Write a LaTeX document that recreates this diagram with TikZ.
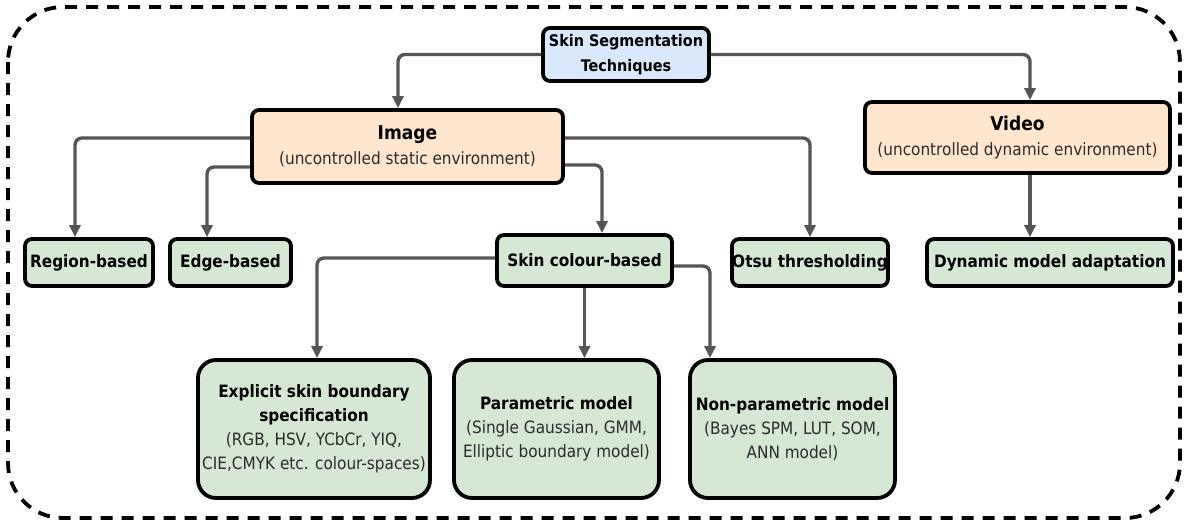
\documentclass[tikz,border=0pt]{standalone}
\usepackage{fontspec}
\setmainfont{DejaVu Sans Condensed}
\usetikzlibrary{arrows.meta}

\definecolor{rootfill}{HTML}{DAE8FC}
\definecolor{mainfill}{HTML}{FFE6CC}
\definecolor{leaffill}{HTML}{D5E8D4}
\definecolor{linkgray}{HTML}{555555}
\definecolor{subtext}{HTML}{2B2B2B}

% title and description lines inside the boxes
\newcommand{\maintitle}[1]{{\bfseries\fontsize{19}{25}\selectfont #1}}
\newcommand{\boxtitle}[1]{{\bfseries #1}}
\newcommand{\boxsub}[1]{{\color{subtext}#1}}

\begin{document}
\begin{tikzpicture}[x=1pt,y=-1pt,
  box/.style={draw=black, line width=3.8pt, rounded corners=7pt, align=center,
    inner sep=0pt, text=black},
  rootbox/.style={box, fill=rootfill, minimum width=166pt, minimum height=53pt,
    font=\bfseries\fontsize{16}{25}\selectfont},
  mainbox/.style={box, fill=mainfill, minimum height=73pt,
    font=\fontsize{17}{25}\selectfont},
  leafbox/.style={box, fill=leaffill, minimum height=47pt,
    font=\bfseries\fontsize{17}{20}\selectfont},
  bigbox/.style={box, fill=leaffill, rounded corners=18pt, minimum width=205pt,
    minimum height=138pt, font=\fontsize{17}{24}\selectfont},
  conn/.style={draw=linkgray, line width=3.4pt, rounded corners=7pt,
    -{Triangle[length=12pt,width=11pt]}},
]
\useasboundingbox (0,0) rectangle (1184,525);

% dashed frame around the whole taxonomy
\draw[black, line width=3.8pt, dash pattern=on 12pt off 9pt, rounded corners=55pt]
  (8,7) rectangle (1180,518);

% root
\node[rootbox] (root) at (626,54.5) {Skin Segmentation\\Techniques};

% media type
\node[mainbox, minimum width=311pt] (img) at (407.5,146.5)
  {\maintitle{Image}\\\boxsub{(uncontrolled static environment)}};
\node[mainbox, minimum width=305pt, minimum height=71pt] (vid) at (1017.5,137.5)
  {\maintitle{Video}\\\boxsub{(uncontrolled dynamic environment)}};

% technique families
\node[leafbox, minimum width=128pt] (reg) at (89,262.5) {Region-based};
\node[leafbox, minimum width=121pt] (edge) at (230.5,262.5) {Edge-based};
\node[leafbox, minimum width=175pt, minimum height=51pt] (skin) at (584.5,260.5) {Skin colour-based};
\node[leafbox, minimum width=156pt] (otsu) at (810,262.5) {Otsu thresholding};
\node[leafbox, minimum width=246pt] (dyn) at (1050,262.5) {Dynamic model adaptation};

% skin colour models
\node[bigbox, minimum width=232pt] (expl) at (314,429)
  {\boxtitle{Explicit skin boundary}\\\boxtitle{specification}\\
   \boxsub{(RGB, HSV, YCbCr, YIQ,}\\\boxsub{CIE,CMYK etc. colour-spaces)}};
\node[bigbox] (par) at (556.5,429)
  {\boxtitle{Parametric model}\\\boxsub{(Single Gaussian, GMM,}\\\boxsub{Elliptic boundary model)}};
\node[bigbox] (non) at (792.5,429)
  {\boxtitle{Non-parametric model}\\\boxsub{(Bayes SPM, LUT, SOM,}\\\boxsub{ANN model)}};

% connectors
\draw[conn] (root.west) -| ([xshift=-9.5pt]img.north);
\draw[conn] (root.east) -| ([xshift=12.5pt]vid.north);
\draw[conn] ([yshift=8.5pt]img.west) -| ([xshift=-14pt]reg.north);
\draw[conn] ([yshift=-20.5pt]img.west) -| ([xshift=-23.5pt]edge.north);
\draw[conn] ([yshift=8.5pt]img.east) -| (otsu.north);
\draw[conn] ([yshift=-18.5pt]img.east) -| ([xshift=17.5pt]skin.north);
\draw[conn] ([yshift=2.5pt]skin.west) -| ([xshift=3pt]expl.north);
\draw[conn] (skin.south) -- (skin.south |- par.north);
\draw[conn] ([yshift=-5.5pt]skin.east) -| ([xshift=-82.5pt]non.north);
\draw[conn] ([xshift=12.5pt]vid.south) -- ([xshift=-20pt]dyn.north);
\end{tikzpicture}
\end{document}
